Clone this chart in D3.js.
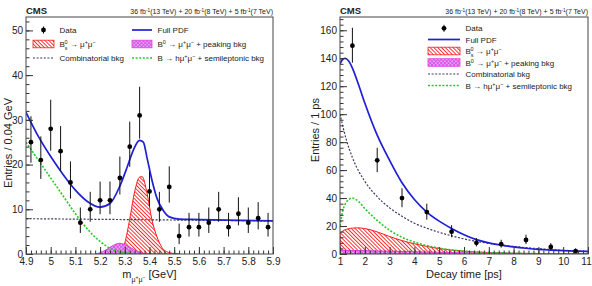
<!DOCTYPE html>
<html>
<head>
<meta charset="utf-8">
<script src="https://cdn.jsdelivr.net/npm/d3@7"></script>
<style>
body { margin: 0; background: #fff; }
text { font-family: "Liberation Sans", Arial, Helvetica, sans-serif; fill: #222; }
</style>
</head>
<body>
<svg id="chart" width="592" height="286"></svg>
<script>
// ---- left panel: dimuon mass ----
var massBins = [4.92,4.96,5.00,5.04,5.08,5.12,5.16,5.20,5.24,5.28,5.32,5.36,5.40,5.44,5.48,5.52,5.56,5.60,5.64,5.68,5.72,5.76,5.80,5.84,5.88];
var massCounts = [25,21,28,23,16,7,10,12,12,17,24,31,14,10,15,4,6,6,7,10,6,9,7,8,6];
var massErrHi = [5.8,5.3,6.5,5.6,4.7,3.4,3.9,4.2,4.2,4.8,5.6,6.4,4.5,3.9,4.6,2.8,3.2,3.2,3.4,3.9,3.2,3.7,3.4,3.6,3.2];
var massErrLo = [4.6,4.2,4.9,4.4,3.6,2.3,2.8,3.1,3.1,3.7,4.5,5.2,3.4,2.8,3.5,1.8,2.1,2.1,2.3,2.8,2.1,2.6,2.3,2.5,2.1];

var pdfMass = [[4.9,31.7],[4.95,26.3],[5.0,21.8],[5.05,17.8],[5.1,14.3],[5.15,11.7],[5.2,10.5],[5.24,11.3],[5.28,15.2],[5.31,19.5],[5.335,23.3],[5.36,25.4],[5.375,25.0],[5.39,21.5],[5.41,16.5],[5.43,12.5],[5.455,9.8],[5.48,8.3],[5.52,7.8],[5.6,7.7],[5.9,7.4]];
var bsMass = [[5.26,0],[5.28,0.4],[5.30,2.5],[5.32,7.8],[5.34,14.0],[5.36,17.2],[5.37,17.3],[5.39,13.6],[5.41,7.6],[5.43,3.9],[5.45,1.5],[5.47,0.5],[5.50,0.1],[5.52,0]];
var b0Mass = [[5.18,0],[5.20,0.3],[5.22,0.8],[5.24,1.5],[5.26,2.1],[5.28,2.4],[5.30,2.1],[5.32,1.5],[5.34,0.9],[5.36,0.4],[5.38,0.1],[5.40,0]];
var combMass = [[4.9,7.9],[5.9,7.4]];
var semiMass = [[4.9,25],[4.95,21],[5.0,17],[5.05,13],[5.1,9],[5.15,5.5],[5.2,2.8],[5.25,1.0],[5.3,0.3],[5.35,0]];
var massTicks = [4.9,5,5.1,5.2,5.3,5.4,5.5,5.6,5.7,5.8,5.9];
var massYTicks = [0,10,20,30,40,50];

// ---- right panel: decay time ----
var timeBins = [1.5,2.5,3.5,4.5,5.5,6.5,7.5,8.5,9.5,10.5];
var timeCounts = [149,67,40,30,16,8,7,10,5,2];
var timeErrHi = [12.8,9,7,6,4.6,3.4,3.2,3.8,2.8,2];
var timeErrLo = [12.2,8.5,6.5,5.5,4,2.6,2.4,2.9,1.9,1.2];

var pdfTime = [[1.0,136],[1.1,139],[1.2,140],[1.35,138],[1.5,133],[1.75,121],[2,108],[2.5,85],[3,67],[3.5,51],[4,39],[4.5,30],[5,23.5],[5.5,18.3],[6,13.8],[6.5,10.3],[7,8],[7.5,6.4],[8,5.1],[8.5,4.1],[9,3.3],[9.5,2.8],[10,2.4],[10.5,2.1],[11,1.9]];
var combTime = [[1.0,100],[1.25,82],[1.5,69],[2,52],[2.5,41],[3,33],[3.5,27],[4,22],[4.5,18.5],[5,15.5],[5.5,13],[6,10.8],[7,7.6],[8,5.4],[9,3.8],[10,2.6],[11,1.7]];
var semiTime = [[1.0,20],[1.1,30],[1.25,37],[1.5,40],[1.75,37.5],[2,32.5],[2.5,24],[3,17],[3.5,12],[4,8.5],[4.5,6],[5,4.2],[5.5,2.9],[6,2],[7,1],[8,0.5],[9,0.25],[11,0.07]];
var bsTime = [[1.0,15],[1.2,17.3],[1.5,18.5],[1.7,18.7],[2,18.2],[2.5,15.8],[3,12.5],[3.5,9.6],[4,7.3],[4.5,5.4],[5,3.9],[5.5,2.8],[6,2],[7,1],[8,0.5],[9,0.25],[10,0.12],[11,0.06]];
var b0Time = [[1,2.6],[2,2.4],[3,2],[4,1.6],[5,1.2],[6,0.9],[7,0.7],[8,0.5],[9,0.35],[10,0.25],[11,0.18]];
var timeTicks = [1,2,3,4,5,6,7,8,9,10,11];
var timeYTicks = [0,20,40,60,80,100,120,140,160];

var blue = "#1f1fd6", red = "#ff1a1a", green = "#22cc22", navy = "#3a3a5c", mag = "#e040e0";

var svg = d3.select("#chart");
var defs = svg.append("defs");

// hatch patterns
var ph = defs.append("pattern").attr("id", "hatchRed")
    .attr("patternUnits", "userSpaceOnUse").attr("width", 2.7).attr("height", 2.7)
    .attr("patternTransform", "rotate(-45)");
ph.append("line").attr("x1", 0.5).attr("y1", 0).attr("x2", 0.5).attr("y2", 2.7)
    .attr("stroke", red).attr("stroke-width", 0.9);
var pm = defs.append("pattern").attr("id", "hatchMag")
    .attr("patternUnits", "userSpaceOnUse").attr("width", 2.6).attr("height", 2.6)
    .attr("patternTransform", "rotate(45)");
pm.append("rect").attr("width", 2.6).attr("height", 2.6).attr("fill", "#d9a6f2");
pm.append("line").attr("x1", 0.4).attr("y1", 0).attr("x2", 0.4).attr("y2", 2.6).attr("stroke", mag).attr("stroke-width", 0.7);
pm.append("line").attr("x1", 0).attr("y1", 0.4).attr("x2", 2.6).attr("y2", 0.4).attr("stroke", mag).attr("stroke-width", 0.7);

// parts: [text, "sup"|"sub"|null, dx, dy, fontSize]
function rich(sel, parts) {
    parts.forEach(function(p) {
        var t = sel.append("tspan").text(p[0]);
        if (p[1] == "sup") t.attr("baseline-shift", "super").style("font-size", "68%");
        if (p[1] == "sub") t.attr("baseline-shift", "sub").style("font-size", "68%");
        if (p[2]) t.attr("dx", p[2]);
        if (p[3]) t.attr("dy", p[3]);
        if (p[4]) t.style("font-size", p[4]);
    });
}

var bsLabel = [["B"],["s","sub"],["0","sup",-3],[" \u2192 \u03bc"],["+","sup"],["\u03bc"],["\u2212","sup"]];
var b0Label = [["B"],["0","sup"],[" \u2192 \u03bc"],["+","sup"],["\u03bc"],["\u2212","sup"],[" + peaking bkg"]];
var semiLabel = [["B \u2192 h\u03bc"],["+","sup"],["\u03bc"],["\u2212","sup"],[" + semileptonic bkg"]];
var lumiLabel = [["36 fb"],["-1","sup"],["(13 TeV) + 20 fb"],["-1","sup"],["(8 TeV) + 5 fb"],["-1","sup"],["(7 TeV)"]];
var massTitle = [["m"],["\u03bc",null,0,3.5,"7px"],["+",null,0,-2.5,"5px"],["\u03bc",null,0,2.5,"7px"],["\u2212",null,0,-2.5,"5px"],[" [GeV]",null,0,-1,"11px"]];

function panel(o) {
    var x = d3.scaleLinear().domain(o.xDom).range([o.left, o.right]);
    var y = d3.scaleLinear().domain(o.yDom).range([o.bottom, o.top]);
    var g = svg.append("g");
    var clipId = "clip" + o.left;
    defs.append("clipPath").attr("id", clipId).append("rect")
        .attr("x", o.left).attr("y", o.top).attr("width", o.right - o.left).attr("height", o.bottom - o.top);
    var plot = g.append("g").attr("clip-path", "url(#" + clipId + ")");

    var line = d3.line().x(function(d){ return x(d[0]); }).y(function(d){ return y(d[1]); }).curve(d3.curveMonotoneX);
    var area = d3.area().x(function(d){ return x(d[0]); }).y0(y(0)).y1(function(d){ return y(d[1]); }).curve(d3.curveMonotoneX);

    plot.append("path").attr("d", area(o.bs)).attr("fill", "url(#hatchRed)").attr("stroke", red).attr("stroke-width", 1);
    plot.append("path").attr("d", area(o.b0)).attr("fill", "url(#hatchMag)").attr("stroke", mag).attr("stroke-width", 1);
    plot.append("path").attr("d", line(o.comb)).attr("fill", "none").attr("stroke", navy).attr("stroke-width", 1.2).attr("stroke-dasharray", "2,1.6");
    plot.append("path").attr("d", line(o.semi)).attr("fill", "none").attr("stroke", green).attr("stroke-width", 1.6).attr("stroke-dasharray", "2,1.6");
    plot.append("path").attr("d", line(o.pdf)).attr("fill", "none").attr("stroke", blue).attr("stroke-width", 1.7);

    // data points
    var pts = plot.selectAll(".pt").data(o.bins).enter().append("g");
    pts.append("line")
        .attr("x1", function(d){ return x(d); }).attr("x2", function(d){ return x(d); })
        .attr("y1", function(d, i){ return y(o.counts[i] - o.errLo[i]); })
        .attr("y2", function(d, i){ return y(o.counts[i] + o.errHi[i]); })
        .attr("stroke", "#111").attr("stroke-width", 1);
    pts.append("circle").attr("cx", function(d){ return x(d); })
        .attr("cy", function(d, i){ return y(o.counts[i]); }).attr("r", 2.4).attr("fill", "#000");

    // axes, ROOT style ticks inside the frame
    var xa = g.append("g").attr("transform", "translate(0," + o.bottom + ")")
        .call(d3.axisBottom(x).tickValues(o.xTicks).tickFormat(d3.format("~g")).tickSizeInner(-7).tickSizeOuter(0).tickPadding(4));
    g.append("g").attr("transform", "translate(0," + o.bottom + ")")
        .call(d3.axisBottom(x).tickValues(o.xMinor).tickFormat("").tickSizeInner(-3.5).tickSizeOuter(0));
    var ya = g.append("g").attr("transform", "translate(" + o.left + ",0)")
        .call(d3.axisLeft(y).tickValues(o.yTicks).tickSizeInner(-7).tickSizeOuter(0).tickPadding(3));
    g.append("g").attr("transform", "translate(" + o.left + ",0)")
        .call(d3.axisLeft(y).tickValues(o.yMinor).tickFormat("").tickSizeInner(-3.5).tickSizeOuter(0));
    g.selectAll(".domain").remove();
    g.selectAll(".tick line").attr("stroke", "#333");
    g.selectAll(".tick text").style("font-size", "10px").attr("fill", "#333")
        .style("font-family", "'Liberation Sans', Arial, sans-serif");
    if (o.lastTickShift) xa.selectAll(".tick:last-of-type text").attr("dx", o.lastTickShift);

    g.append("rect").attr("x", o.left).attr("y", o.top)
        .attr("width", o.right - o.left).attr("height", o.bottom - o.top)
        .attr("fill", "none").attr("stroke", "#444").attr("stroke-width", 1);

    // titles
    g.append("text").attr("x", o.left).attr("y", 13.5).style("font-size", "9.5px").style("font-weight", "bold").text("CMS");
    var lumi = g.append("text").attr("x", o.right).attr("y", 13.5).attr("text-anchor", "end").style("font-size", "7px");
    rich(lumi, lumiLabel);

    var yt = g.append("text").attr("transform", "translate(" + o.yTitleX + ",98) rotate(-90)")
        .attr("text-anchor", "end").style("font-size", "11px").attr("fill", "#333");
    yt.text(o.yTitle);
    var xt = g.append("text").attr("x", (o.left + o.right) / 2).attr("y", 278)
        .attr("text-anchor", "middle").style("font-size", "11px");
    rich(xt, o.xTitle);
    return g;
}

function legendItem(g, kind, x0, x1, yc, label) {
    if (kind == "data") {
        var xm = (x0 + x1) / 2;
        g.append("line").attr("x1", xm).attr("x2", xm).attr("y1", yc - 3.5).attr("y2", yc + 3.5).attr("stroke", "#111");
        g.append("circle").attr("cx", xm).attr("cy", yc).attr("r", 2.4).attr("fill", "#000");
    } else if (kind == "pdf") {
        g.append("line").attr("x1", x0).attr("x2", x1).attr("y1", yc).attr("y2", yc).attr("stroke", blue).attr("stroke-width", 1.7);
    } else if (kind == "bs" || kind == "b0") {
        g.append("rect").attr("x", x0).attr("y", yc - 3.8).attr("width", x1 - x0).attr("height", 7.6)
            .attr("fill", kind == "bs" ? "url(#hatchRed)" : "url(#hatchMag)")
            .attr("stroke", kind == "bs" ? red : mag).attr("stroke-width", 0.8);
    } else if (kind == "comb") {
        g.append("line").attr("x1", x0).attr("x2", x1).attr("y1", yc).attr("y2", yc).attr("stroke", navy).attr("stroke-width", 1.2).attr("stroke-dasharray", "2,1.6");
    } else if (kind == "semi") {
        g.append("line").attr("x1", x0).attr("x2", x1).attr("y1", yc).attr("y2", yc).attr("stroke", green).attr("stroke-width", 1.6).attr("stroke-dasharray", "2,1.6");
    }
    var t = g.append("text").attr("x", x1 + 5.5).attr("y", yc + 3).style("font-size", "8px");
    if (typeof label == "string") t.text(label); else rich(t, label);
}

var gl = panel({
    left: 26, right: 273, top: 17, bottom: 254,
    xDom: [4.9, 5.9], yDom: [0, 53],
    bins: massBins, counts: massCounts, errHi: massErrHi, errLo: massErrLo,
    pdf: pdfMass, bs: bsMass, b0: b0Mass, comb: combMass, semi: semiMass,
    xTicks: massTicks, xMinor: d3.range(4.9, 5.9001, 0.02),
    yTicks: massYTicks, yMinor: d3.range(0, 53, 2),
    yTitle: "Entries / 0.04 GeV", yTitleX: 12,
    xTitle: massTitle
});
legendItem(gl, "data", 33, 54, 30, "Data");
legendItem(gl, "pdf", 132, 152, 30, "Full PDF");
legendItem(gl, "bs", 33, 54, 44, bsLabel);
legendItem(gl, "b0", 132, 152, 44, b0Label);
legendItem(gl, "comb", 33, 54, 58, "Combinatorial bkg");
legendItem(gl, "semi", 132, 152, 58, semiLabel);

var gr = panel({
    left: 340, right: 588, top: 17, bottom: 254,
    xDom: [1, 11], yDom: [0, 169.5],
    bins: timeBins, counts: timeCounts, errHi: timeErrHi, errLo: timeErrLo,
    pdf: pdfTime, bs: bsTime, b0: b0Time, comb: combTime, semi: semiTime,
    xTicks: timeTicks, xMinor: d3.range(1, 11.001, 0.2),
    yTicks: timeYTicks, yMinor: d3.range(0, 169, 4),
    yTitle: "Entries / 1 ps", yTitleX: 319,
    xTitle: [["Decay time [ps]"]], lastTickShift: -2
});
legendItem(gr, "data", 428, 460, 28.3, "Data");
legendItem(gr, "pdf", 428, 460, 39.5, "Full PDF");
legendItem(gr, "bs", 428, 460, 51, bsLabel);
legendItem(gr, "b0", 428, 460, 62.5, b0Label);
legendItem(gr, "comb", 428, 460, 74, "Combinatorial bkg");
legendItem(gr, "semi", 428, 460, 85.5, semiLabel);
</script>
</body>
</html>
